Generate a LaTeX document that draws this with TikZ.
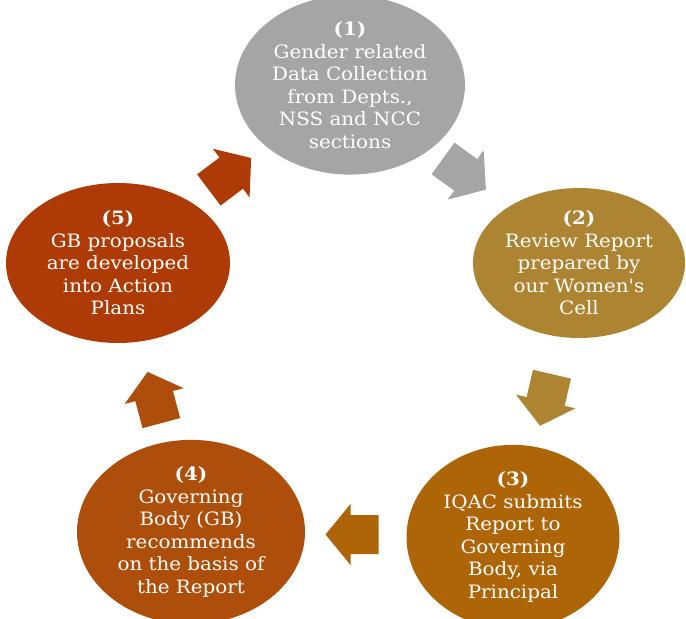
\documentclass[tikz,border=0pt]{standalone}
\usepackage{fontspec}
\setmainfont{DejaVu Serif}[FakeStretch=1.08, Ligatures=TeXOff]
\usetikzlibrary{calc,shapes.geometric}
\definecolor{cgray}{HTML}{A5A5A5}
\definecolor{cgold}{HTML}{AD8432}
\definecolor{corange}{HTML}{AD6508}
\definecolor{crust}{HTML}{AE4E0B}
\definecolor{cred}{HTML}{AE3A05}
\newcommand\blockarr[5][0]{%
  \fill[#5, shift={($(#2.center)!0.5!(#3.center)$)}, xshift=#1, rotate=#4]
    (-26.5,-19.5) -- (1.5,-19.5) -- (1.5,-30.5) -- (26.5,0) -- (1.5,30.5) -- (1.5,19.5) -- (-26.5,19.5) -- cycle;}
\begin{document}
\begin{tikzpicture}[x=1pt,y=1pt,
  stage/.style={ellipse, inner sep=0pt, text=white, align=center,
    font=\fontsize{18.4}{22.5}\selectfont}]
\useasboundingbox (0,0) rectangle (686,-619);
\node[stage, fill=cgray, minimum width=230, minimum height=160] (e1) at (350,-85)
  {\textbf{(1)}\\Gender related\\Data Collection\\from Depts.,\\NSS and NCC\\sections};
\node[stage, fill=cgold, minimum width=212, minimum height=150] (e2) at (579,-263)
  {\textbf{(2)}\\Review Report\\prepared by\\our Women's\\Cell};
\node[stage, fill=corange, minimum width=213, minimum height=160] (e3) at (513,-537)
  {\textbf{(3)}\\IQAC submits\\Report to\\Governing\\Body, via\\Principal};
\node[stage, fill=crust, minimum width=228, minimum height=170] (e4) at (191,-532)
  {\textbf{(4)}\\Governing\\Body (GB)\\recommends\\on the basis of\\the Report};
\node[stage, fill=cred, minimum width=224, minimum height=160] (e5) at (118,-263)
  {\textbf{(5)}\\GB proposals\\are developed\\into Action\\Plans};
\blockarr{e1}{e2}{-36}{cgray}
\blockarr{e2}{e3}{-103}{cgold}
\blockarr{e3}{e4}{180}{corange}
\blockarr{e4}{e5}{105}{crust}
\blockarr[-4]{e5}{e1}{37}{cred}
\end{tikzpicture}
\end{document}
